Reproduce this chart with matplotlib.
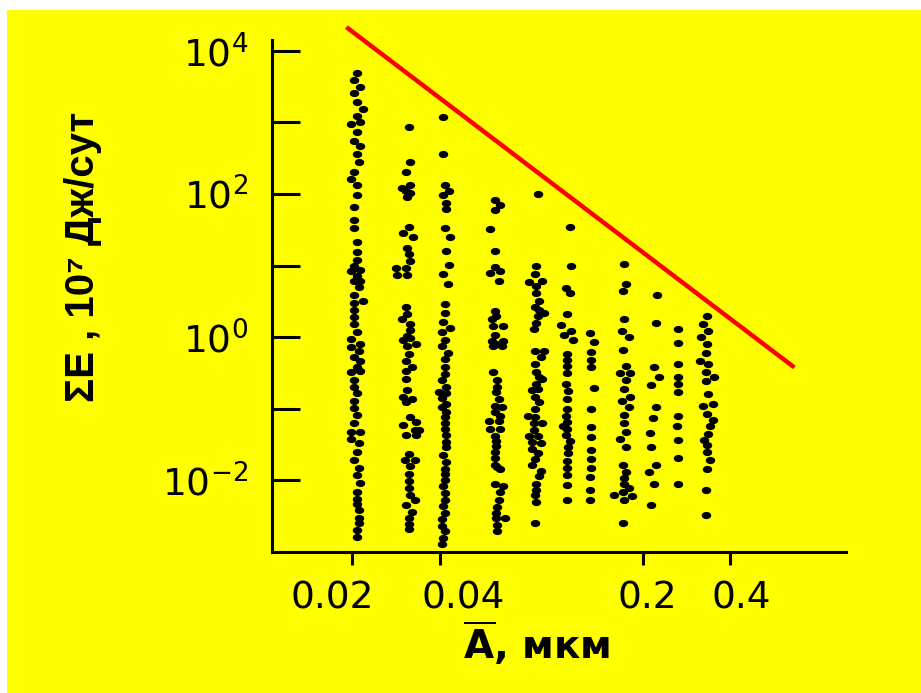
import numpy as np
import matplotlib
matplotlib.use("Agg")
import matplotlib.pyplot as plt
from matplotlib.path import Path
from matplotlib.transforms import Affine2D, ScaledTranslation
from matplotlib.patches import Rectangle

plt.rcParams['font.family'] = 'DejaVu Sans'
plt.rcParams['mathtext.fontset'] = 'dejavusans'

# mean amplitude of each column of points, mkm
col_A = [0.0208, 0.0310, 0.0416, 0.0625, 0.0861, 0.1097, 0.1327, 0.1729, 0.2167, 0.2642, 0.3324]

# points of every column: (log10 of sum E, small shift of log10 A)
col1 = [(3.69, 0), (3.59, -0.01), (3.50, 0.01), (3.41, -0.01), (3.29, 0), (3.18, 0.02), (3.09, 0),
        (3.00, 0.01), (2.98, -0.02), (2.86, 0), (2.74, -0.01), (2.67, 0.01), (2.56, 0), (2.45, 0.005),
        (2.31, -0.01), (2.21, -0.02), (2.12, 0), (1.98, 0), (1.82, -0.01), (1.63, -0.01), (1.52, -0.01),
        (1.33, 0), (1.19, 0), (1.08, 0), (0.99, -0.01), (0.94, 0.01), (0.93, -0.02), (0.86, 0),
        (0.79, -0.01), (0.78, 0.01), (0.70, 0.005), (0.59, -0.01), (0.51, 0.02), (0.48, -0.01),
        (0.38, -0.01), (0.28, -0.01), (0.18, -0.01), (0.07, 0), (-0.03, -0.02), (-0.10, 0.01),
        (-0.14, -0.02), (-0.20, 0.005), (-0.28, -0.01), (-0.33, 0.01), (-0.41, 0), (-0.47, 0.01),
        (-0.48, -0.02), (-0.60, -0.01), (-0.70, -0.01), (-0.78, 0), (-0.89, -0.01), (-0.99, -0.01),
        (-1.09, 0), (-1.20, -0.01), (-1.32, -0.02), (-1.33, 0.01), (-1.42, -0.02), (-1.48, 0.005),
        (-1.61, 0), (-1.72, -0.01), (-1.82, 0.005), (-1.93, 0), (-2.03, 0.01), (-2.16, 0), (-2.26, 0),
        (-2.33, 0), (-2.42, 0.005), (-2.52, 0.005), (-2.60, 0.005), (-2.69, 0), (-2.79, 0)]
col2 = [(2.93, 0.005), (2.45, 0.01), (2.31, -0.005), (2.12, 0.01), (2.08, -0.02), (2.04, -0.005),
        (2.01, 0.01), (1.96, 0), (1.54, 0.005), (1.46, -0.015), (1.40, 0.02), (1.25, 0), (1.16, 0.005),
        (1.06, 0.01), (0.97, -0.005), (0.96, -0.04), (0.87, -0.035), (0.87, 0), (0.42, -0.005), (0.33, 0),
        (0.26, -0.02), (0.19, 0.01), (0.10, 0.01), (0.02, 0), (-0.01, 0.01), (-0.04, -0.015), (-0.10, 0.03),
        (-0.12, 0), (-0.23, 0.005), (-0.33, -0.005), (-0.42, 0.015), (-0.47, -0.005), (-0.58, -0.005),
        (-0.74, 0), (-0.83, -0.015), (-0.86, 0.015), (-0.90, -0.005), (-1.12, 0.01), (-1.19, 0.03),
        (-1.23, -0.015), (-1.29, 0.025), (-1.29, 0.04), (-1.36, -0.005), (-1.37, 0.03), (-1.63, 0.005),
        (-1.71, 0.025), (-1.72, -0.01), (-1.80, 0.01), (-1.91, 0.005), (-2.01, 0.005), (-2.11, 0.005),
        (-2.21, 0.01), (-2.27, 0.025), (-2.35, -0.005), (-2.44, 0.015), (-2.52, 0.005), (-2.61, 0.005),
        (-2.68, 0.005)]
col3 = [(3.07, -0.005), (2.56, -0.005), (2.13, 0), (2.04, 0.015), (1.98, -0.005), (1.87, 0.005),
        (1.79, 0.005), (1.52, 0), (1.40, 0.02), (1.21, 0.005), (1.01, 0.015), (0.88, -0.005), (0.74, 0.01),
        (0.47, 0), (0.34, 0), (0.21, -0.005), (0.13, 0.02), (0.07, -0.01), (-0.04, 0), (-0.12, -0.01),
        (-0.22, 0.01), (-0.31, 0), (-0.41, 0), (-0.51, 0), (-0.60, -0.01), (-0.69, 0.005), (-0.77, -0.02),
        (-0.78, 0.005), (-0.85, -0.01), (-0.94, 0.005), (-0.97, -0.01), (-1.04, 0.005), (-1.12, 0),
        (-1.20, 0), (-1.28, 0), (-1.37, 0.005), (-1.46, 0.005), (-1.54, 0.005), (-1.64, -0.005),
        (-1.75, 0.005), (-1.84, 0), (-1.91, 0), (-1.99, 0), (-2.08, -0.005), (-2.17, 0), (-2.27, 0),
        (-2.36, -0.005), (-2.45, 0), (-2.54, -0.01), (-2.63, -0.01), (-2.70, 0), (-2.80, -0.005),
        (-2.89, -0.01)]
col4 = [(1.91, -0.005), (1.85, 0.015), (1.78, -0.005), (1.51, -0.02), (1.20, -0.005), (0.98, -0.005),
        (0.92, 0.015), (0.89, -0.02), (0.79, 0.01), (0.37, -0.005), (0.29, 0), (0.25, -0.015), (0.16, -0.01),
        (0.15, 0.025), (0.03, -0.005), (-0.05, -0.015), (-0.05, 0.025), (-0.09, 0), (-0.12, -0.01),
        (-0.12, 0.02), (-0.48, -0.01), (-0.60, 0.005), (-0.70, 0.005), (-0.76, 0), (-0.86, 0.01),
        (-0.96, -0.005), (-0.98, 0.02), (-1.04, -0.005), (-1.10, 0.015), (-1.17, -0.025), (-1.17, 0.01),
        (-1.28, -0.02), (-1.28, 0.015), (-1.38, -0.005), (-1.45, 0), (-1.52, 0), (-1.60, -0.005),
        (-1.69, -0.005), (-1.78, -0.005), (-1.81, 0.005), (-1.84, 0.015), (-2.05, -0.005), (-2.08, 0.025),
        (-2.16, 0.015), (-2.27, 0.01), (-2.37, 0.005), (-2.45, 0), (-2.53, 0), (-2.52, 0.03), (-2.62, 0.005),
        (-2.71, 0.005)]
col5 = [(2.00, 0.005), (1.00, 0), (0.88, -0.005), (0.77, -0.025), (0.78, 0.02), (0.72, 0), (0.62, 0),
        (0.51, 0.01), (0.42, -0.005), (0.38, 0.01), (0.34, 0.025), (0.29, 0.005), (0.20, 0), (0.12, -0.01),
        (-0.19, -0.005), (-0.19, 0.025), (-0.28, 0.015), (-0.37, -0.005), (-0.48, 0), (-0.56, 0.01),
        (-0.58, 0.02), (-0.65, 0), (-0.74, -0.015), (-0.72, 0.005), (-0.83, -0.005), (-0.91, 0.01),
        (-1.01, -0.005), (-1.10, -0.03), (-1.12, -0.005), (-1.20, -0.01), (-1.20, 0.02), (-1.29, -0.01),
        (-1.38, -0.025), (-1.38, 0.005), (-1.47, -0.015), (-1.48, 0.015), (-1.56, -0.015), (-1.62, 0.005),
        (-1.70, -0.005), (-1.79, -0.015), (-1.87, 0.015), (-1.94, 0.01), (-2.05, 0), (-2.14, 0),
        (-2.20, -0.005), (-2.30, 0), (-2.60, -0.005)]
col6 = [(1.54, 0.01), (1.00, 0.015), (0.68, -0.005), (0.62, 0.01), (0.32, 0), (0.17, -0.02), (0.09, 0.015),
        (0.03, -0.01), (-0.04, 0.02), (-0.23, 0), (-0.32, 0), (-0.40, 0), (-0.50, 0), (-0.65, -0.005),
        (-0.75, 0.005), (-0.86, 0), (-1.00, 0), (-1.10, -0.005), (-1.18, 0), (-1.24, -0.015), (-1.28, 0),
        (-1.37, -0.005), (-1.45, 0.01), (-1.53, 0.005), (-1.62, 0.005), (-1.73, 0), (-1.83, 0), (-1.92, 0),
        (-2.07, 0), (-2.27, 0)]
col7 = [(0.06, -0.005), (-0.07, 0.01), (-0.21, 0), (-0.32, 0), (-0.42, 0), (-0.71, 0.01), (-1.00, 0),
        (-1.25, 0), (-1.39, 0), (-1.58, 0), (-1.70, 0), (-1.83, 0), (-1.95, -0.005), (-2.13, -0.005),
        (-2.27, -0.005)]
col8 = [(1.02, 0), (0.74, 0.005), (0.64, -0.005), (0.26, 0), (0.09, -0.01), (0.00, 0.015), (-0.18, -0.005),
        (-0.40, 0.005), (-0.50, -0.015), (-0.50, 0.02), (-0.60, 0.005), (-0.73, 0), (-0.83, 0.02),
        (-0.89, -0.01), (-0.97, 0.015), (-1.09, 0), (-1.20, 0), (-1.33, 0.005), (-1.42, -0.015),
        (-1.53, 0.005), (-1.79, -0.005), (-1.88, 0.005), (-1.97, 0), (-2.05, 0), (-2.11, 0.015),
        (-2.16, -0.005), (-2.20, -0.035), (-2.22, 0.025), (-2.27, 0), (-2.59, -0.005)]
col9 = [(0.59, 0.015), (0.20, 0.01), (-0.41, 0.005), (-0.55, 0.02), (-0.67, -0.005), (-0.97, 0.01),
        (-1.13, 0), (-1.34, -0.01), (-1.54, -0.005), (-1.78, 0.01), (-1.88, -0.015), (-2.05, 0.005),
        (-2.35, -0.005)]
col10 = [(0.11, 0), (-0.08, 0), (-0.37, 0), (-0.56, 0), (-0.66, 0), (-0.77, 0), (-1.10, 0), (-1.24, -0.005),
         (-1.43, 0), (-1.69, 0), (-2.05, 0)]
col11 = [(0.29, 0), (0.19, -0.015), (0.08, 0.005), (0.00, -0.02), (-0.09, 0), (-0.22, -0.005),
         (-0.33, -0.025), (-0.38, 0.005), (-0.48, -0.005), (-0.55, 0.025), (-0.61, -0.005), (-0.79, 0.005),
         (-0.96, -0.015), (-0.94, 0.02), (-1.07, 0), (-1.16, 0.02), (-1.24, 0.01), (-1.35, 0.005),
         (-1.43, -0.01), (-1.51, 0), (-1.61, 0), (-1.71, 0.01), (-1.84, 0), (-2.13, -0.005), (-2.48, -0.005)]
columns = [col1, col2, col3, col4, col5, col6, col7, col8, col9, col10, col11]

# upper envelope (red line)
env_A = [0.0191, 0.664]
env_E = [2.14e4, 0.378]

xticks = [0.02, 0.04, 0.2, 0.4]
xtick_labels = ['0.02', '0.04', '0.2', '0.4']
yticks = [1e-2, 1e-1, 1e0, 1e1, 1e2, 1e3, 1e4]
ytick_labels = ['$10^{-2}$', '', '$10^{0}$', '', '$10^{2}$', '', '$10^{4}$']

fig = plt.figure(figsize=(9.21, 6.93), dpi=100, facecolor='white')
fig.patches.append(Rectangle((7 / 921, 0), 1 - 7 / 921, 1 - 10 / 693, transform=fig.transFigure,
                             facecolor='#FFFF00', edgecolor='none', zorder=-10))

ax = fig.add_axes([272 / 921, 1 - 552 / 693, 574 / 921, 512 / 693])
ax.set_facecolor('none')
ax.set_xscale('log')
ax.set_yscale('log')
ax.set_xlim(0.0106, 1.0)
ax.set_ylim(1e-3, 10 ** 4.15)

dot = Path.unit_circle().transformed(Affine2D().scale(1.0, 0.72))
for a0, pts in zip(col_A, columns):
    logE = np.array([p[0] for p in pts])
    shift = np.array([p[1] for p in pts])
    ax.plot(a0 * 10 ** shift, 10 ** logE, linestyle='none', marker=dot, markersize=5.8,
            color='black', clip_on=False)

ax.plot(env_A, env_E, color='red', linewidth=3.2, clip_on=False, solid_capstyle='butt')

for side in ['top', 'right']:
    ax.spines[side].set_visible(False)
for side in ['left', 'bottom']:
    ax.spines[side].set_linewidth(2.2)

ax.minorticks_off()
ax.set_yticks(yticks)
ax.set_yticklabels(ytick_labels)
ax.set_xticks(xticks)
ax.set_xticklabels(xtick_labels)
ax.tick_params(axis='y', direction='in', length=20, width=2.2, labelsize=27, pad=17)
ax.tick_params(axis='x', direction='out', length=9.5, width=2.2, labelsize=27, pad=11)
ax.tick_params(which='minor', length=0)

# the x labels in the original sit a little off their ticks
for lab, shift_pt in zip(ax.get_xticklabels(), [-14, 17, 3, 8]):
    lab.set_transform(lab.get_transform() + ScaledTranslation(shift_pt / 72, 0, fig.dpi_scale_trans))

ax.set_xlabel(r'$\overline{\mathbf{A}}$, мкм', fontsize=28, fontweight='bold')
ax.xaxis.set_label_coords(0.46, -0.13)
ax.set_ylabel('ΣE , 10⁷ Дж/сут', fontsize=29, fontweight='bold',
              family=['Liberation Sans', 'DejaVu Sans'], va='center')
ax.yaxis.set_label_coords(-0.33, 0.576)

fig.savefig('out.png', dpi=100, facecolor='white')
